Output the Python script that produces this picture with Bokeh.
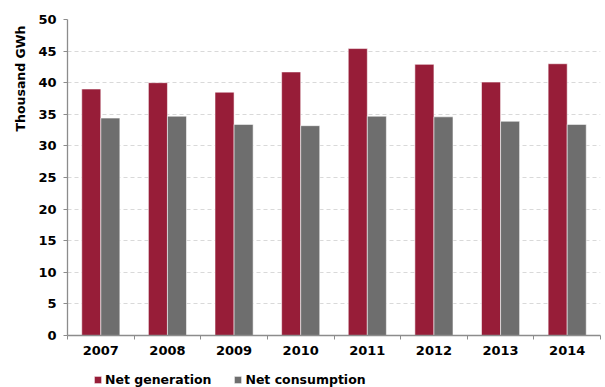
from bokeh.embed import file_html
from bokeh.layouts import column
from bokeh.models import (ColumnDataSource, FixedTicker, Legend, LegendItem,
                          Title)
from bokeh.plotting import figure
from bokeh.resources import INLINE
from bokeh.transform import dodge

# Annual electricity figures, thousand GWh
years = ["2007", "2008", "2009", "2010", "2011", "2012", "2013", "2014"]
net_generation = [39.0, 40.0, 38.5, 41.7, 45.4, 42.9, 40.1, 43.0]
net_consumption = [34.4, 34.7, 33.4, 33.2, 34.7, 34.6, 33.9, 33.4]

series_names = ["Net generation", "Net consumption"]
y_ticks = [0, 5, 10, 15, 20, 25, 30, 35, 40, 45, 50]

RED = "#971D38"
GREY = "#6E6E6E"
AXIS = "#8C8C8C"
FONT = "DejaVu Sans"
SIZE = "13px"
W = 605

slots = [i + 0.5 for i in range(len(years))]
source = ColumnDataSource(dict(slot=slots, year=years,
                               gen=net_generation, con=net_consumption))

p = figure(width=W, height=363, output_backend="svg", toolbar_location=None,
           x_range=(0, len(years)), y_range=(0, 50),
           min_border_left=67, min_border_right=5, min_border_top=19,
           min_border_bottom=28)
p.outline_line_color = None
p.background_fill_color = "white"
p.border_fill_color = "white"

bw = 0.286
bar_style = dict(width=bw, source=source, line_color="white",
                 line_alpha=0.55, line_width=1)
p.vbar(x=dodge("slot", -bw / 2), top="gen", fill_color=RED, **bar_style)
p.vbar(x=dodge("slot", bw / 2), top="con", fill_color=GREY, **bar_style)

# x axis: year labels at slot centres, small ticks on slot boundaries
p.xaxis.ticker = FixedTicker(ticks=slots,
                             minor_ticks=list(range(len(years) + 1)))
p.xaxis.major_label_overrides = {s: y for s, y in zip(slots, years)}
p.xaxis.major_tick_out = 0
p.xaxis.major_tick_in = 0
p.xaxis.minor_tick_out = 4
p.xaxis.minor_tick_in = 0
p.xaxis.minor_tick_line_color = AXIS
p.xaxis.major_label_standoff = 6

p.yaxis.ticker = FixedTicker(ticks=y_ticks)
p.yaxis.major_tick_out = 4
p.yaxis.major_tick_in = 0
p.yaxis.minor_tick_line_color = None
p.yaxis.major_label_standoff = 7

for ax in (p.xaxis, p.yaxis):
    ax.axis_line_color = AXIS
    ax.axis_line_width = 1.3
    ax.major_tick_line_color = AXIS
    ax.major_label_text_font = FONT
    ax.major_label_text_font_style = "bold"
    ax.major_label_text_font_size = SIZE
    ax.major_label_text_color = "black"

p.xgrid.grid_line_color = None
p.ygrid.ticker = FixedTicker(ticks=y_ticks[1:])
p.ygrid.grid_line_color = "#D9D9D9"
p.ygrid.grid_line_dash = "4 3"
p.ygrid.grid_line_width = 1.2

# vertical axis title, set near the top of the axis
p.add_layout(Title(text="Thousand GWh", align="right", offset=6,
                   standoff=15, text_font=FONT, text_font_style="bold",
                   text_font_size="12.5px", text_color="black"), "left")

# legend strip under the chart; its frame lines up with the chart's frame
lg = figure(width=W, height=24, output_backend="svg", toolbar_location=None,
            x_range=(0, 1), y_range=(0, 1), min_border=0)
lg.axis.visible = False
lg.grid.visible = False
lg.outline_line_color = None
lg.border_fill_color = "white"
# swatch renderers sit outside the visible range; only their style is used
swatches = [lg.vbar(x=[-10], top=[0], width=1, fill_color=c,
                    line_color="white", line_alpha=0.55) for c in (RED, GREY)]
legend = Legend(items=[LegendItem(label=n, renderers=[r])
                       for n, r in zip(series_names, swatches)],
                location=(26, 0), orientation="horizontal",
                glyph_width=9, glyph_height=9, label_standoff=3, spacing=22,
                padding=0, margin=0, label_height=15,
                label_text_font=FONT, label_text_font_style="bold",
                label_text_font_size="12.5px", label_text_color="black",
                border_line_color=None, background_fill_alpha=0)
lg.add_layout(legend)

open("out.html", "w").write(file_html(column(p, lg, spacing=0), INLINE))
